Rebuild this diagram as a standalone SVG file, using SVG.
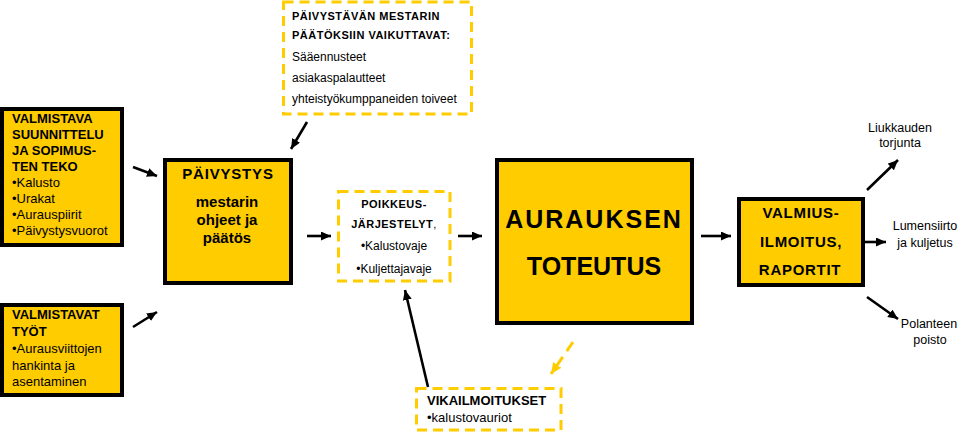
<svg xmlns="http://www.w3.org/2000/svg" width="973" height="435" viewBox="0 0 973 435">
<style>
.box{fill:#FFCC00;stroke:#000;stroke-width:4}
.dash{fill:#fff;stroke:#FFCC00;stroke-width:3;stroke-dasharray:10 6}
text{font-family:"Liberation Sans",Arial,sans-serif;fill:#000}
.b{font-weight:bold}
.c{text-anchor:middle}
.ar{stroke:#000;stroke-width:2.6;fill:none}
.ay{stroke:#FFCC00;stroke-width:3;fill:none;stroke-dasharray:11 7}
</style>
<defs>
<marker id="ah" markerUnits="userSpaceOnUse" markerWidth="12" markerHeight="10" refX="10" refY="4.5" orient="auto"><path d="M0,0 L10,4.5 L0,9 z" fill="#000"/></marker>
<marker id="ahy" markerUnits="userSpaceOnUse" markerWidth="14" markerHeight="12" refX="11" refY="5" orient="auto"><path d="M0,0 L11,5 L0,10 z" fill="#FFCC00"/></marker>
</defs>
<rect width="973" height="435" fill="#fff"/>
<g id="connectors">
<line class="ar" x1="133" y1="167" x2="157" y2="176" marker-end="url(#ah)"/>
<line class="ar" x1="133" y1="327" x2="157" y2="312" marker-end="url(#ah)"/>
<line class="ar" x1="307" y1="122" x2="291" y2="149" marker-end="url(#ah)"/>
<line class="ar" x1="307" y1="236" x2="331" y2="236" marker-end="url(#ah)"/>
<line class="ar" x1="458" y1="236" x2="482" y2="236" marker-end="url(#ah)"/>
<line class="ar" x1="701" y1="236" x2="731" y2="236" marker-end="url(#ah)"/>
<line class="ar" x1="428" y1="387" x2="405" y2="290" marker-end="url(#ah)"/>
<line class="ay" x1="573" y1="342" x2="551" y2="374" marker-end="url(#ahy)"/>
<line class="ar" x1="867" y1="190" x2="898" y2="160" marker-end="url(#ah)"/>
<line class="ar" x1="865" y1="242" x2="886" y2="242" marker-end="url(#ah)"/>
<line class="ar" x1="867" y1="297" x2="898" y2="319" marker-end="url(#ah)"/>
</g>
<g id="valmistava">
<rect class="box" x="2" y="109" width="120" height="136"/>
<text class="b" font-size="13" x="12" y="123">VALMISTAVA</text>
<text class="b" font-size="13" x="12" y="139">SUUNNITTELU</text>
<text class="b" font-size="13" x="12" y="155">JA SOPIMUS-</text>
<text class="b" font-size="13" x="12" y="171">TEN TEKO</text>
<text font-size="13" x="12" y="187">•Kalusto</text>
<text font-size="13" x="12" y="203">•Urakat</text>
<text font-size="13" x="12" y="219">•Aurauspiirit</text>
<text font-size="13" x="12" y="235">•Päivystysvuorot</text>
</g>
<g id="valmistavat">
<rect class="box" x="2" y="305" width="120" height="90"/>
<text class="b" font-size="13" x="12" y="319">VALMISTAVAT</text>
<text class="b" font-size="13" x="12" y="336">TYÖT</text>
<text font-size="13" x="12" y="353">•Aurausviittojen</text>
<text font-size="13" x="12" y="370">hankinta ja</text>
<text font-size="13" x="12" y="386">asentaminen</text>
</g>
<g id="vaikuttavat">
<rect class="dash" x="283.5" y="2" width="188" height="112"/>
<text class="b" font-size="11" x="292" y="20" letter-spacing="0.5">PÄIVYSTÄVÄN MESTARIN</text>
<text class="b" font-size="11" x="292" y="39" letter-spacing="0.5">PÄÄTÖKSIIN VAIKUTTAVAT:</text>
<text font-size="12" x="292" y="61">Sääennusteet</text>
<text font-size="12" x="292" y="82">asiakaspalautteet</text>
<text font-size="12" x="292" y="103">yhteistyökumppaneiden toiveet</text>
</g>
<g id="paivystys">
<rect class="box" x="165" y="160" width="126" height="123"/>
<text class="b c" font-size="15" x="228" y="179" letter-spacing="0.8">PÄIVYSTYS</text>
<text class="b c" font-size="15" x="227" y="207">mestarin</text>
<text class="b c" font-size="15" x="227" y="225">ohjeet ja</text>
<text class="b c" font-size="15" x="227" y="243">päätös</text>
</g>
<g id="poikkeus">
<rect class="dash" x="338.5" y="191.5" width="111.5" height="89.5"/>
<text class="b c" font-size="11" x="394" y="208" letter-spacing="0.5">POIKKEUS-</text>
<text class="b c" font-size="11" x="394" y="228" letter-spacing="0.5">JÄRJESTELYT<tspan font-weight="normal">,</tspan></text>
<text class="c" font-size="12" x="394" y="250">•Kalustovaje</text>
<text class="c" font-size="12" x="394" y="273">•Kuljettajavaje</text>
</g>
<g id="vikailmoitukset">
<rect class="dash" x="416.5" y="388.5" width="144.5" height="41.5"/>
<text class="b" font-size="13" x="427" y="405">VIKAILMOITUKSET</text>
<text font-size="13" x="427" y="422">•kalustovauriot</text>
</g>
<g id="toteutus">
<rect class="box" x="497" y="160" width="195" height="163"/>
<text class="b c" font-size="25" x="594" y="228" letter-spacing="2">AURAUKSEN</text>
<text class="b c" font-size="25" x="594" y="275">TOTEUTUS</text>
</g>
<g id="valmius">
<rect class="box" x="739" y="199" width="124" height="86"/>
<text class="b c" font-size="15" x="801" y="218" letter-spacing="0.7">VALMIUS-</text>
<text class="b c" font-size="15" x="801" y="247" letter-spacing="0.7">ILMOITUS,</text>
<text class="b c" font-size="15" x="800" y="275" letter-spacing="0.7">RAPORTIT</text>
</g>
<g id="liukkauden">
<text class="c" font-size="12.5" x="900" y="132">Liukkauden</text>
<text class="c" font-size="12.5" x="900" y="147">torjunta</text>
</g>
<g id="lumensiirto">
<text class="c" font-size="12.5" x="925" y="230">Lumensiirto</text>
<text class="c" font-size="12.5" x="925" y="247">ja kuljetus</text>
</g>
<g id="polanteen">
<text class="c" font-size="12.5" x="929" y="328">Polanteen</text>
<text class="c" font-size="12.5" x="930" y="344">poisto</text>
</g>
</svg>
